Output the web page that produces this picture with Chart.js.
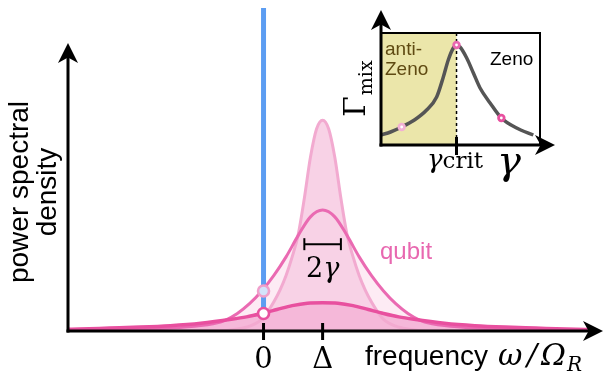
<!DOCTYPE html>
<html>
<head>
<meta charset="utf-8">
<script src="https://cdn.jsdelivr.net/npm/chart.js@4.4.1/dist/chart.umd.min.js"></script>
<style>
  html, body { margin: 0; padding: 0; background: #fff; }
  #wrap { position: relative; width: 603px; height: 382px; overflow: hidden; }
  #main { position: absolute; left: 0; top: 0; }
  #inset { position: absolute; left: 330px; top: 0; }
</style>
</head>
<body>
<div id="wrap">
  <canvas id="main" width="603" height="382"></canvas>
  <canvas id="inset" width="273" height="195"></canvas>
</div>
<script>
// ---- main panel: spectra vs frequency (omega / Omega_R, Delta = 1) ----
// narrow bath peak (light pink)
const freqA = [-3.21, -0.73, -0.43, -0.23, -0.03, 0.07, 0.17, 0.27, 0.37, 0.47, 0.57, 0.67, 0.77, 0.87, 0.97,
               1.07, 1.17, 1.27, 1.37, 1.47, 1.57, 1.67, 1.77, 1.87, 1.97, 2.17, 2.37, 2.67, 5.44];
const psdA  = [0, 0, 0.02, 0.05, 0.12, 0.20, 0.30, 0.42, 0.57, 0.76, 0.99, 1.36, 1.78, 2.07, 2.16,
               2.07, 1.78, 1.36, 0.99, 0.76, 0.57, 0.42, 0.30, 0.20, 0.12, 0.05, 0.02, 0, 0];
// medium peak (qubit)
const freqB = [-3.21, -3.03, -2.03, -1.53, -1.03, -0.83, -0.63, -0.43, -0.23, -0.03, 0.17, 0.37, 0.57, 0.77, 0.97,
               1.17, 1.37, 1.57, 1.77, 1.97, 2.17, 2.37, 2.57, 2.77, 2.97, 3.47, 3.97, 4.97, 5.44];
const psdB  = [0.008, 0.01, 0.02, 0.03, 0.055, 0.075, 0.11, 0.18, 0.28, 0.41, 0.57, 0.76, 0.98, 1.17, 1.24,
               1.17, 0.98, 0.76, 0.57, 0.41, 0.28, 0.18, 0.11, 0.075, 0.055, 0.03, 0.02, 0.01, 0.008];
// broad flat peak
const freqC = [-3.21, -3.03, -2.53, -2.03, -1.53, -1.03, -0.53, -0.28, -0.03, 0.22, 0.47, 0.72, 0.97,
               1.22, 1.47, 1.72, 1.97, 2.22, 2.47, 2.97, 3.47, 3.97, 4.47, 4.97, 5.44];
const psdC  = [0.018, 0.02, 0.03, 0.04, 0.055, 0.08, 0.12, 0.145, 0.18, 0.22, 0.26, 0.285, 0.29,
               0.285, 0.26, 0.22, 0.18, 0.145, 0.12, 0.08, 0.055, 0.04, 0.03, 0.02, 0.015];
// drive line at omega = 0 and the two overlap markers on it
const driveFreq = [0, 0];
const drivePsd  = [0, 3.31];
const markerFreq = [0, 0];
const markerPsd  = [0.41, 0.18];
const tickValues = [0, 0.97];
const tickLabels = ['0', 'Δ'];
const peakCenter = 0.97;
const halfWidth = 0.3;
const widthLevel = 0.89;

// ---- inset: mixing rate vs gamma ----
const zenoGamma = [0, 0.6, 1.3, 2.1, 2.87, 3.5, 3.92, 4.23, 4.55, 4.75, 4.97, 5.39, 5.81, 6.23, 6.86, 7.57, 8.53, 9.58];
const zenoRate  = [0.10, 0.13, 0.18, 0.25, 0.35, 0.48, 0.68, 0.85, 0.97, 1.00, 0.98, 0.87, 0.72, 0.57, 0.42, 0.27, 0.17, 0.10];
const zenoMarkGamma = [1.3, 4.75, 7.57];
const zenoMarkRate  = [0.18, 1.00, 0.27];
const gammaCrit = 4.75;

const pts = (xs, ys) => xs.map((v, i) => ({ x: v, y: ys[i] }));

function arrowHead(ctx, tx, ty, angle, len, half) {
  ctx.save();
  ctx.translate(tx, ty);
  ctx.rotate(angle);
  ctx.beginPath();
  ctx.moveTo(0, 0);
  ctx.lineTo(-len, -half);
  ctx.lineTo(-len * 0.72, 0);
  ctx.lineTo(-len, half);
  ctx.closePath();
  ctx.fill();
  ctx.restore();
}

function seg(ctx, x1, y1, x2, y2) {
  ctx.beginPath();
  ctx.moveTo(x1, y1);
  ctx.lineTo(x2, y2);
  ctx.stroke();
}

const SANS = '"Liberation Sans", Arial, sans-serif';
const SERIF = '"DejaVu Serif", "Liberation Serif", serif';

const mainDecor = {
  id: 'mainDecor',
  afterDraw(chart) {
    const { ctx, scales: { x, y } } = chart;
    const x0 = x.left;
    const yb = y.getPixelForValue(0);
    ctx.save();
    ctx.strokeStyle = '#000';
    ctx.fillStyle = '#000';
    ctx.lineWidth = 3;
    // axes
    seg(ctx, x0, yb + 1.5, x0, 56);
    arrowHead(ctx, x0, 43, -Math.PI / 2, 20, 10);
    seg(ctx, x0 - 1.5, yb, 590, yb);
    arrowHead(ctx, 603, yb, 0, 20, 10);
    // ticks and tick labels
    ctx.font = '29px ' + SERIF;
    ctx.textAlign = 'center';
    ctx.textBaseline = 'alphabetic';
    tickValues.forEach((v, i) => {
      const px = x.getPixelForValue(v);
      seg(ctx, px, yb - 8, px, yb + 9);
      ctx.fillText(tickLabels[i], px, 368);
    });
    // axis titles
    ctx.textAlign = 'left';
    ctx.font = '28px ' + SANS;
    ctx.fillText('frequency', 365, 365);
    ctx.font = 'italic 30px ' + SERIF;
    ctx.fillText('ω', 498, 365);
    ctx.fillText('/', 527, 365);
    ctx.fillText('Ω', 541, 365);
    ctx.font = 'italic 20px ' + SERIF;
    ctx.fillText('R', 567, 371);

    ctx.save();
    ctx.translate(20, 192);
    ctx.rotate(-Math.PI / 2);
    ctx.textAlign = 'center';
    ctx.textBaseline = 'middle';
    ctx.font = '28px ' + SANS;
    ctx.fillText('power spectral', 0, 0);
    ctx.fillText('density', 0, 28);
    ctx.restore();

    // 2 gamma width bracket
    const bl = x.getPixelForValue(peakCenter - halfWidth);
    const br = x.getPixelForValue(peakCenter + halfWidth);
    const by = y.getPixelForValue(widthLevel);
    ctx.lineWidth = 2;
    seg(ctx, bl, by, br, by);
    seg(ctx, bl, by - 6, bl, by + 6);
    seg(ctx, br, by - 6, br, by + 6);
    ctx.font = '27px ' + SERIF;
    const w2 = ctx.measureText('2').width;
    ctx.font = 'italic 27px ' + SERIF;
    const wg = ctx.measureText('γ').width;
    const cx = (bl + br) / 2 - (w2 + wg) / 2;
    ctx.textAlign = 'left';
    ctx.font = '27px ' + SERIF;
    ctx.fillText('2', cx, 277);
    ctx.font = 'italic 27px ' + SERIF;
    ctx.fillText('γ', cx + w2, 277);

    ctx.fillStyle = '#e868b0';
    ctx.font = '24px ' + SANS;
    ctx.fillText('qubit', 380, 259);
    ctx.restore();
  }
};

new Chart(document.getElementById('main'), {
  type: 'line',
  data: {
    datasets: [
      { data: pts(markerFreq, markerPsd), showLine: false, pointRadius: 5.5, pointBorderWidth: 2.6,
        pointBackgroundColor: ['#d3e3fa', '#ffffff'], pointBorderColor: ['#f09fcb', '#e8509f'] },
      { data: pts(freqC, psdC), borderColor: '#e8509f', borderWidth: 3.5, fill: false },
      { data: pts(freqB, psdB), borderColor: '#ea6ab2', borderWidth: 3, fill: false },
      { data: pts(freqA, psdA), borderColor: '#f2aad0', borderWidth: 3, fill: false },
      { data: pts(freqC, psdC), borderWidth: 0, borderColor: 'rgba(0,0,0,0)', fill: 'origin', backgroundColor: '#f5b8d9' },
      { data: pts(driveFreq, drivePsd), borderColor: '#5c9df2', borderWidth: 5, fill: false, tension: 0 },
      { data: pts(freqA, psdA), borderWidth: 0, borderColor: 'rgba(0,0,0,0)', fill: 'origin', backgroundColor: '#f8d2e6' },
      { data: pts(freqB, psdB), borderWidth: 0, borderColor: 'rgba(0,0,0,0)', fill: 'origin', backgroundColor: '#fdebf4' }
    ]
  },
  options: {
    responsive: false,
    animation: false,
    events: [],
    layout: { padding: { left: 68, right: 7, top: 0, bottom: 51 } },
    elements: { point: { radius: 0 }, line: { cubicInterpolationMode: 'monotone' } },
    scales: {
      x: { type: 'linear', display: false, min: -3.21, max: 5.44 },
      y: { type: 'linear', display: false, min: 0, max: 3.31 }
    },
    plugins: { legend: { display: false }, tooltip: { enabled: false } }
  },
  plugins: [mainDecor]
});

// ---- inset ----
const insetDecor = {
  id: 'insetDecor',
  beforeDatasetsDraw(chart) {
    const { ctx, chartArea: a, scales: { x } } = chart;
    const xc = x.getPixelForValue(gammaCrit);
    ctx.save();
    ctx.fillStyle = '#ebe6aa';
    ctx.fillRect(a.left, a.top, xc - a.left, a.bottom - a.top);
    ctx.strokeStyle = '#000';
    ctx.lineWidth = 1.5;
    ctx.setLineDash([3, 3]);
    seg(ctx, xc, a.top, xc, a.bottom);
    ctx.restore();
  },
  afterDraw(chart) {
    const { ctx, chartArea: a, scales: { x } } = chart;
    const xc = x.getPixelForValue(gammaCrit);
    ctx.save();
    ctx.strokeStyle = '#000';
    ctx.fillStyle = '#000';
    ctx.lineWidth = 2;
    ctx.strokeRect(a.left, a.top, a.right - a.left, a.bottom - a.top);
    ctx.lineWidth = 3;
    seg(ctx, a.left, a.bottom + 1.5, a.left, 24);
    arrowHead(ctx, a.left, 10, -Math.PI / 2, 20, 10);
    seg(ctx, a.left - 1.5, a.bottom, 212, a.bottom);
    arrowHead(ctx, 225, a.bottom, 0, 20, 10);
    seg(ctx, xc, a.bottom - 8, xc, a.bottom + 10);

    ctx.textAlign = 'left';
    ctx.textBaseline = 'alphabetic';
    ctx.font = '19px ' + SANS;
    ctx.fillStyle = '#5f4a12';
    ctx.fillText('anti-', 55, 55);
    ctx.fillText('Zeno', 55, 75);
    ctx.fillStyle = '#000';
    ctx.fillText('Zeno', 160, 65);

    ctx.font = 'italic 26px ' + SERIF;
    ctx.fillText('γ', 97, 168);
    const gw = ctx.measureText('γ').width;
    ctx.font = '23px ' + SERIF;
    ctx.fillText('crit', 97 + gw, 168);
    ctx.font = 'italic 40px ' + SERIF;
    ctx.fillText('γ', 167, 174);

    ctx.save();
    ctx.translate(365 - 330, 117);
    ctx.rotate(-Math.PI / 2);
    ctx.font = '30px ' + SERIF;
    ctx.fillText('Γ', 0, 0);
    const Gw = ctx.measureText('Γ').width;
    ctx.font = '19px ' + SERIF;
    ctx.fillText('mix', Gw + 1, 7);
    ctx.restore();
    ctx.restore();
  }
};

new Chart(document.getElementById('inset'), {
  type: 'line',
  data: {
    datasets: [
      { data: pts(zenoMarkGamma, zenoMarkRate), showLine: false, pointRadius: 2.8, pointBorderWidth: 2.8,
        pointBackgroundColor: '#ffffff', pointBorderColor: ['#f2b0d4', '#e868b0', '#e8509f'] },
      { data: pts(zenoGamma, zenoRate), borderColor: '#555555', borderWidth: 3.5, fill: false }
    ]
  },
  options: {
    responsive: false,
    animation: false,
    events: [],
    layout: { padding: { left: 51, right: 63, top: 33, bottom: 50 } },
    elements: { point: { radius: 0 }, line: { cubicInterpolationMode: 'monotone' } },
    scales: {
      x: { type: 'linear', display: false, min: 0, max: 10 },
      y: { type: 'linear', display: false, min: 0, max: 1.12 }
    },
    plugins: { legend: { display: false }, tooltip: { enabled: false } }
  },
  plugins: [insetDecor]
});
</script>
</body>
</html>
